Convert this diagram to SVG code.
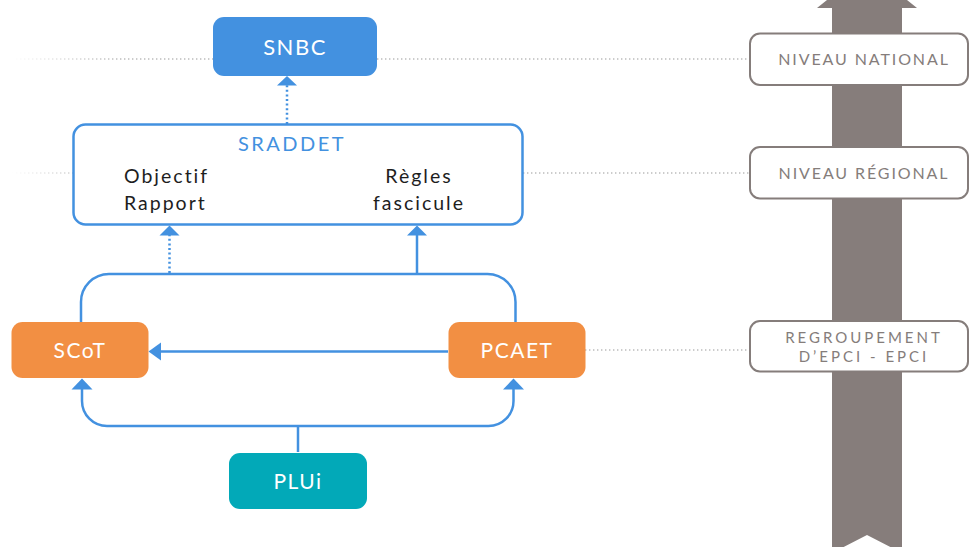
<svg xmlns="http://www.w3.org/2000/svg" width="969" height="547" viewBox="0 0 969 547">
  <style>
    .box-blue { fill: #4391E0; }
    .box-orange { fill: #F28F43; }
    .box-teal { fill: #02A9B8; }
    .frame { fill: #FFFFFF; stroke: #4391E0; stroke-width: 2.5; }
    .level { fill: #FFFFFF; stroke: #857D7B; stroke-width: 2; }
    .node-label { font-family: Lato, "Open Sans", sans-serif; font-size: 21px; fill: #FFFFFF; text-anchor: middle; letter-spacing: 1.5px; }
    .title { font-family: Lato, "Open Sans", sans-serif; font-size: 20px; fill: #4391E0; text-anchor: middle; letter-spacing: 2.5px; }
    .item { font-family: Lato, "Open Sans", sans-serif; font-size: 19.5px; fill: #1E1E1E; letter-spacing: 2px; }
    .level-label { font-family: Lato, "Open Sans", sans-serif; font-size: 16px; fill: #857D7B; text-anchor: middle; letter-spacing: 1.9px; }
    .level-small { font-family: Lato, "Open Sans", sans-serif; font-size: 15px; fill: #857D7B; text-anchor: middle; letter-spacing: 3px; }
    .link { fill: none; stroke: #4391E0; stroke-width: 2.5; }
    .dotted { stroke-dasharray: 2 2.6; }
    .guide { stroke: #9A9A9A; stroke-width: 1.2; stroke-dasharray: 1.4 2.6; fill: none; }
    .head { fill: #4391E0; }
  </style>
  <defs>
    <linearGradient id="fadeTop" gradientUnits="userSpaceOnUse" x1="12" y1="0" x2="120" y2="0">
      <stop offset="0" stop-color="#9A9A9A" stop-opacity="0"/>
      <stop offset="1" stop-color="#9A9A9A" stop-opacity="1"/>
    </linearGradient>
    <linearGradient id="fadeMid" gradientUnits="userSpaceOnUse" x1="12" y1="0" x2="73" y2="0">
      <stop offset="0" stop-color="#BBBBBB" stop-opacity="0"/>
      <stop offset="1" stop-color="#BBBBBB" stop-opacity="1"/>
    </linearGradient>
  </defs>

  <!-- level scale: tall grey arrow with notched tail -->
  <g id="scale">
    <polygon points="867,-32 917,8 902,8 902,553 867,535 832,553 832,8 817,8" fill="#867D7B"/>
  </g>

  <!-- dotted guides tying each node row to its level -->
  <g id="guides">
    <line x1="12" y1="59" x2="213" y2="59" class="guide" style="stroke:url(#fadeTop)"/>
    <line x1="377" y1="59" x2="750" y2="59" class="guide"/>
    <line x1="12" y1="173" x2="73" y2="173" class="guide" style="stroke:url(#fadeMid)"/>
    <line x1="523" y1="173" x2="750" y2="173" class="guide"/>
    <line x1="585" y1="350" x2="750" y2="350" class="guide"/>
  </g>

  <!-- level labels -->
  <g id="level-national">
    <rect x="750" y="33.5" width="218" height="51.5" rx="10" class="level"/>
    <text x="864" y="65" class="level-label">NIVEAU NATIONAL</text>
  </g>
  <g id="level-regional">
    <rect x="750" y="147" width="218" height="51.5" rx="10" class="level"/>
    <text x="864" y="178.5" class="level-label">NIVEAU RÉGIONAL</text>
  </g>
  <g id="level-epci">
    <rect x="750" y="321" width="218" height="50.5" rx="10" class="level"/>
    <text x="864" y="343" class="level-small">REGROUPEMENT</text>
    <text x="864" y="361.5" class="level-small">D’EPCI - EPCI</text>
  </g>

  <!-- connectors -->
  <g id="connectors">
    <!-- SRADDET to SNBC -->
    <line x1="287" y1="124" x2="287" y2="85" class="link dotted"/>
    <polygon points="287,76 297,85.5 277,85.5" class="head"/>
    <!-- SCoT / PCAET loop up to SRADDET -->
    <path d="M81,322 V302 A28,28 0 0 1 109,274 H487.5 A28,28 0 0 1 515.5,302 V322" class="link"/>
    <line x1="169.5" y1="273" x2="169.5" y2="235" class="link dotted"/>
    <polygon points="169.5,225.5 179.5,235.5 159.5,235.5" class="head"/>
    <line x1="417" y1="274" x2="417" y2="235" class="link"/>
    <polygon points="417,225.5 427,235.5 407,235.5" class="head"/>
    <!-- PCAET to SCoT -->
    <line x1="448" y1="351.5" x2="160" y2="351.5" class="link"/>
    <polygon points="148.5,351.5 161,342.5 161,360.5" class="head"/>
    <!-- PLUi to SCoT and PCAET -->
    <line x1="298" y1="452" x2="298" y2="426" class="link"/>
    <path d="M82,389 V401 A25,25 0 0 0 107,426 H488.5 A25,25 0 0 0 513.5,401 V389" class="link"/>
    <polygon points="82,378.5 92.5,389.5 71.5,389.5" class="head"/>
    <polygon points="513.5,378.5 524,389.5 503,389.5" class="head"/>
  </g>

  <!-- nodes -->
  <g id="snbc">
    <rect x="213" y="17" width="164" height="59" rx="11" class="box-blue"/>
    <text x="295" y="55" class="node-label" style="font-size:22px">SNBC</text>
  </g>
  <g id="sraddet">
    <rect x="73.5" y="124.5" width="449" height="100" rx="12" class="frame"/>
    <text x="292" y="151" class="title">SRADDET</text>
    <text x="124" y="183" class="item">Objectif</text>
    <text x="124" y="210" class="item">Rapport</text>
    <text x="419" y="183" class="item" text-anchor="middle">Règles</text>
    <text x="419" y="210" class="item" text-anchor="middle">fascicule</text>
  </g>
  <g id="scot">
    <rect x="11.5" y="322" width="137" height="56" rx="11" class="box-orange"/>
    <text x="80" y="358" class="node-label">SCoT</text>
  </g>
  <g id="pcaet">
    <rect x="448.5" y="322" width="137" height="56" rx="11" class="box-orange"/>
    <text x="517" y="358" class="node-label">PCAET</text>
  </g>
  <g id="plui">
    <rect x="229" y="453" width="138" height="56" rx="11" class="box-teal"/>
    <text x="298" y="488.5" class="node-label">PLUi</text>
  </g>
</svg>
